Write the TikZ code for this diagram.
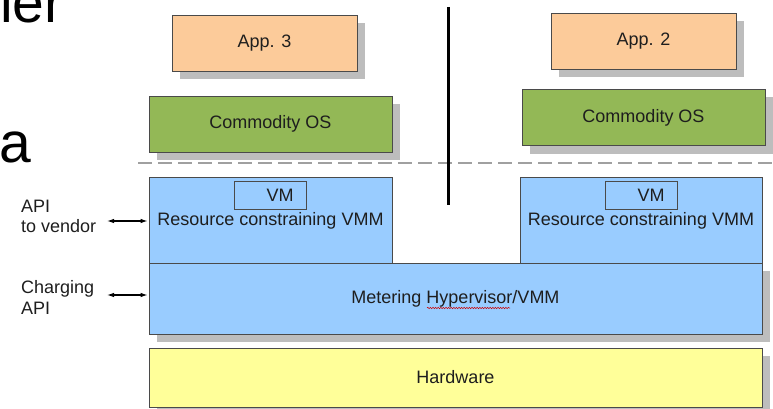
\documentclass[tikz,border=0pt]{standalone}
\usepackage{fontspec}
\setmainfont{Liberation Sans}
\usetikzlibrary{arrows.meta,decorations.pathmorphing,shadows}
\definecolor{appfill}{HTML}{FCCB9A}
\definecolor{osfill}{HTML}{93B856}
\definecolor{vmmfill}{HTML}{99CCFF}
\definecolor{hwfill}{HTML}{FFFF99}
\definecolor{edge}{HTML}{4A4A4A}
\definecolor{shade}{HTML}{BDBDBD}
\definecolor{ink}{HTML}{1E1E1E}
\definecolor{sep}{HTML}{A0A0A0}
\begin{document}
\begin{tikzpicture}[x=1pt,y=-1pt,
  txt/.style={font=\fontsize{18}{20}\selectfont,text=ink,inner sep=0pt},
  layer/.style={txt,draw=edge,line width=0.8pt,rectangle},
  shadowed/.style={drop shadow={shadow xshift=8pt,shadow yshift=-8pt,fill=shade,opacity=1}},
  appbox/.style={layer,shadowed,fill=appfill,minimum width=185pt,minimum height=56pt},
  osbox/.style={layer,shadowed,fill=osfill,minimum width=243pt,minimum height=56pt},
  vmmbox/.style={layer,fill=vmmfill,minimum height=86pt},
  vmbox/.style={layer,fill=vmmfill,minimum width=72pt,minimum height=28pt},
  wide/.style={layer,shadowed,minimum width=613pt},
  api/.style={{Latex[length=7pt,width=4.5pt]}-{Latex[length=7pt,width=4.5pt]},line width=1.1pt,black},
  big/.style={font=\fontsize{57}{60}\selectfont,text=black,inner sep=0pt,anchor=base west}
]
\useasboundingbox (0,0) rectangle (773,409);

% fragments of the slide text on the left
\node[big] (fragler) at (0,23) {ler};
\node[big] (fraga) at (-1,162) {a};

% guest side: applications and operating systems
\node[appbox] (app3) at (264.5,43.5) {App. 3};
\node[appbox] (app2) at (643.5,41) {App. 2};
\node[osbox] (osL) at (270.5,124) {Commodity OS};
\node[osbox] (osR) at (643.5,117.5) {Commodity OS};

% boundary between guest and host
\coordinate (sepA) at (138,163);
\coordinate (sepB) at (773,163);
\draw[sep,line width=1.6pt,dash pattern=on 14pt off 6pt] (sepA) -- (sepB);

% host side: metering hypervisor and hardware
\node[wide,fill=vmmfill,minimum height=71pt] (meter) at (455.5,298.5) {Metering Hypervisor/VMM};
\node[wide,fill=hwfill,minimum height=59pt] (hw) at (455.5,377.5) {Hardware};
\draw[red!80!black,line width=0.5pt,decorate,
  decoration={snake,amplitude=0.7pt,segment length=2.6pt}]
  (427,308) -- (510,308);

% resource constraining VMMs with their VMs
\node[vmmbox,minimum width=243pt] (resL) at (270.5,220) {};
\node[vmmbox,minimum width=242pt] (resR) at (641,220) {};
\node[vmbox] (vmL) at (270,195) {};
\node[vmbox] (vmR) at (641,195) {};
\node[txt,anchor=base] (vmLtext) at (280,201) {VM};
\node[txt,anchor=base] (vmRtext) at (651,201) {VM};
\node[txt,anchor=base] (resLtext) at (270.5,225) {Resource constraining VMM};
\node[txt,anchor=base] (resRtext) at (641,225) {Resource constraining VMM};

% isolation between the two customers
\coordinate (wallTop) at (448,7);
\coordinate (wallBot) at (448,205);
\draw[black,line width=3pt] (wallTop) -- (wallBot);

% external interfaces
\node[txt,anchor=base west] (apiA) at (21,212) {API};
\node[txt,anchor=base west] (apiB) at (21,232) {to vendor};
\node[txt,anchor=base west] (chgA) at (21,293) {Charging};
\node[txt,anchor=base west] (chgB) at (21,314) {API};
\coordinate (vendorEnd) at (107,221);
\coordinate (chargeEnd) at (107,295);
\draw[api,shorten >=1pt] (vendorEnd) -- (vendorEnd -| resL.west);
\draw[api,shorten >=1pt] (chargeEnd) -- (chargeEnd -| meter.west);
\end{tikzpicture}
\end{document}
